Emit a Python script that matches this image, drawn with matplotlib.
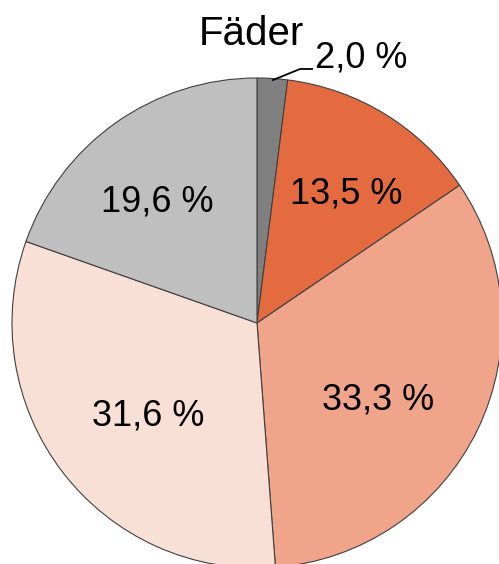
import matplotlib.pyplot as plt

plt.rcParams['font.family'] = ['Liberation Sans', 'DejaVu Sans']

title = "Fäder"
values = [2.0, 13.5, 33.3, 31.6, 19.6]
labels = ["2,0 %", "13,5 %", "33,3 %", "31,6 %", "19,6 %"]
colors = ["#808080", "#E46A3F", "#F0A48A", "#F9E0D7", "#BFBFBF"]

W, H = 499, 564
cx, cy, R = 257, H - 323, 245

fig = plt.figure(figsize=(W / 100, H / 100), dpi=100)
ax = fig.add_axes([0, 0, 1, 1])

wedges, _ = ax.pie(values, colors=colors, startangle=90, counterclock=False,
                   center=(cx, cy), radius=R, frame=True,
                   wedgeprops=dict(edgecolor='#404040', linewidth=0.8))
ax.set_xlim(0, W)
ax.set_ylim(0, H)
ax.set_aspect('equal')
ax.axis('off')

# label baseline positions relative to pie centre (pixels)
offsets = [(104, 255), (89, 119), (121, -86), (-109, -103), (-100, 112)]
for lab, (dx, dy) in zip(labels, offsets):
    ax.text(cx + dx, cy + dy, lab, ha='center', va='baseline', fontsize=26)

# leader line for the small slice
ax.plot([cx + 16, cx + 43, cx + 55], [cy + 243, cy + 254, cy + 254],
        color='black', lw=1.3)

ax.text(251, H - 45, title, ha='center', va='baseline', fontsize=29)

fig.savefig('out.png', dpi=100)
